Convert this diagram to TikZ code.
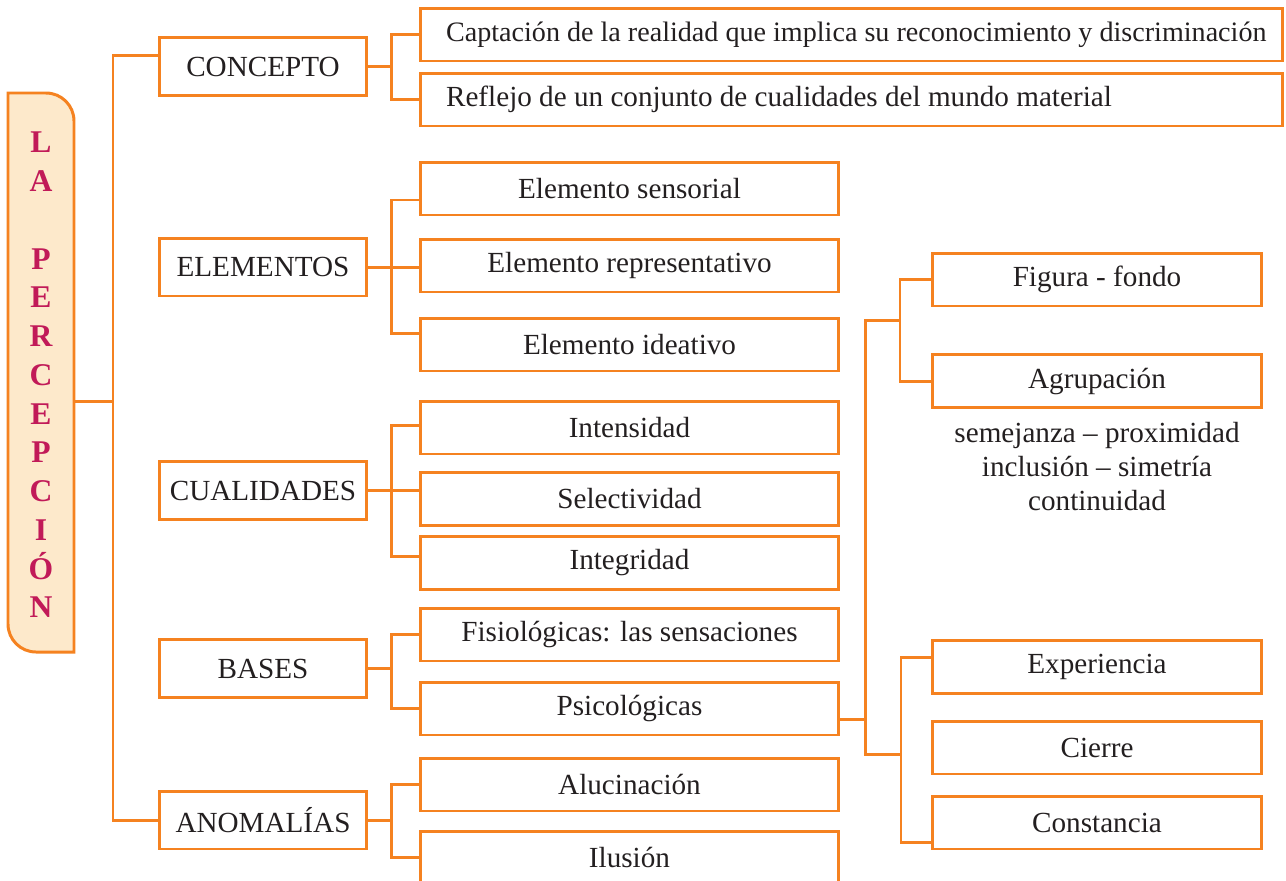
\documentclass[tikz,border=0pt]{standalone}
\usepackage{fontspec}
\setmainfont{Liberation Serif}
\usetikzlibrary{positioning, calc}

\definecolor{naranja}{RGB}{245,130,32}
\definecolor{durazno}{RGB}{253,233,203}
\definecolor{granate}{RGB}{193,26,88}
\definecolor{tinta}{RGB}{35,31,32}

\begin{document}
\begin{tikzpicture}[x=0.02cm, y=-0.02cm,
  linea/.style={draw=naranja, line width=1.7pt},
  caja/.style={draw=naranja, line width=1.7pt, rectangle, inner sep=0pt, text=tinta, font=\fontsize{16.6}{19.5}\selectfont},
  tema/.style={caja, minimum width=4.16cm, minimum height=1.16cm},
  hoja/.style={caja, minimum width=8.38cm, minimum height=1.06cm},
  larga/.style={caja, minimum width=17.26cm, minimum height=1.06cm},
  sub/.style={caja, minimum width=6.6cm, minimum height=1.06cm}]
\useasboundingbox (0,0) rectangle (1286,880);

% Title box
\draw[linea, fill=durazno] (8,93) -- (46,93) .. controls (61.5,93) and (74,105.5) .. (74,121)
  -- (74,652) -- (36,652) .. controls (20.5,652) and (8,639.5) .. (8,624) -- cycle;
\node[minimum width=1.32cm, minimum height=11.18cm, inner sep=0pt, text=granate,
  font=\bfseries\fontsize{18}{22.06}\selectfont, align=center] (titulo) at (41,375)
  {L\\A\\\mbox{}\\P\\E\\R\\C\\E\\P\\C\\I\\Ó\\N};

% Main topics
\node[tema] (concepto) at (263,66.5) {CONCEPTO};
\node[tema] (elementos) at (263,267) {ELEMENTOS};
\node[tema] (cualidades) at (263,490.5) {CUALIDADES};
\node[tema] (bases) at (263,668.5) {BASES};
\node[tema] (anomalias) at (263,820) {ANOMALÍAS};

% Second level
\node[larga] (captacion) at (851.5,34.5) {\makebox[16.22cm][l]{\fontsize{16}{19}\selectfont Captación de la realidad que implica su reconocimiento y discriminación}};
\node[larga] (reflejo) at (851.5,99.5) {\makebox[16.22cm][l]{Reflejo de un conjunto de cualidades del mundo material}};

\node[hoja] (sensorial) at (629.5,188.5) {Elemento sensorial};
\node[hoja] (representativo) at (629.5,265.5) {Elemento representativo};
\node[hoja] (ideativo) at (629.5,344.5) {Elemento ideativo};

\node[hoja] (intensidad) at (629.5,427.5) {Intensidad};
\node[hoja] (selectividad) at (629.5,499) {Selectividad};
\node[hoja] (integridad) at (629.5,563) {Integridad};

\node[hoja] (fisiologicas) at (629.5,634.5) {Fisiológicas: las sensaciones};
\node[hoja] (psicologicas) at (629.5,708.5) {Psicológicas};

\node[hoja] (alucinacion) at (629.5,784.5) {Alucinación};
\node[hoja] (ilusion) at (629.5,857.5) {Ilusión};

% Third level
\node[sub] (figura) at (1097,279.5) {Figura - fondo};
\node[sub] (agrupacion) at (1097,381) {Agrupación};
\node[text=tinta, font=\fontsize{16.6}{19.4}\selectfont, align=center] (leyes) at (1097,466.5)
  {semejanza – proximidad\\inclusión – simetría\\continuidad};
\node[sub] (experiencia) at (1097,667) {Experiencia};
\node[sub] (cierre) at (1097,747.5) {Cierre};
\node[sub] (constancia) at (1097,822.5) {Constancia};

% Trunk
\coordinate (tronco) at (113,401);
\draw[linea] (tronco -| titulo.east) -- (tronco);
\draw[linea] ([yshift=0.23cm]concepto.west) -| (tronco) |- (anomalias.west);

% Branches
\draw[linea] (concepto.east) -- ++(0.46cm,0) coordinate (r1);
\draw[linea] (captacion.west) -| (r1) |- (reflejo.west);

\draw[linea] (elementos.east) -- ++(0.46cm,0) coordinate (r2);
\draw[linea] ([yshift=-0.23cm]sensorial.west) -| (r2) |- ([yshift=0.23cm]ideativo.west);
\draw[linea] (r2) -- (r2 -| representativo.west);

\draw[linea] (cualidades.east) -- ++(0.46cm,0) coordinate (r3);
\draw[linea] ([yshift=0.05cm]intensidad.west) -| (r3) |- ([yshift=0.14cm]integridad.west);
\draw[linea] (r3) -- (r3 -| selectividad.west);

\draw[linea] (bases.east) -- ++(0.46cm,0) coordinate (r4);
\draw[linea] (fisiologicas.west) -| (r4) |- (psicologicas.west);

\draw[linea] (anomalias.east) -- ++(0.46cm,0) coordinate (r5);
\draw[linea] (alucinacion.west) -| (r5) |- (ilusion.west);

% Psicologicas sub-branches
\draw[linea] ([yshift=-0.21cm]psicologicas.east) -- ++(0.5cm,0) coordinate (q);
\coordinate (qa) at (900,320);
\coordinate (qb) at (901,754);
\draw[linea] (qa) -| (q) |- (qb);
\draw[linea] (figura.west) -| (qa) |- (agrupacion.west);
\draw[linea] ([yshift=0.2cm]experiencia.west) -| (qb) |- ([yshift=-0.39cm]constancia.west);
\end{tikzpicture}
\end{document}
